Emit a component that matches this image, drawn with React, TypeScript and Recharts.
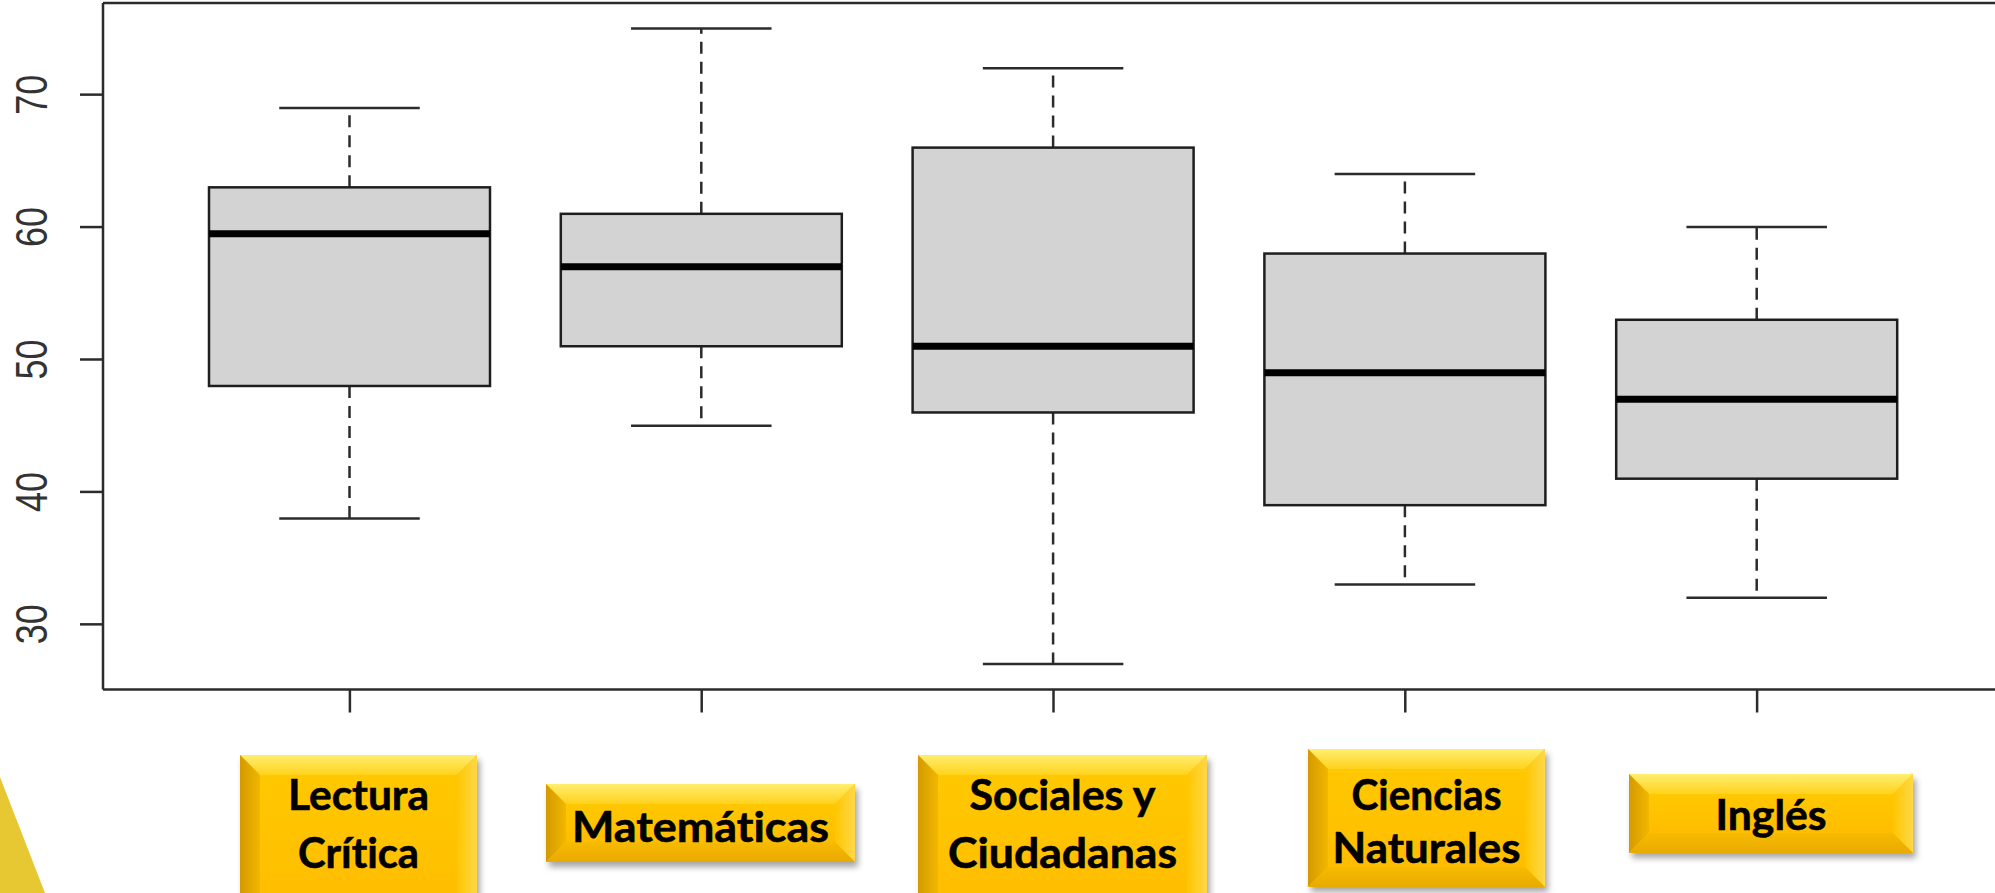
import React from 'react';
import { ComposedChart, Bar, XAxis, YAxis, ReferenceLine } from 'recharts';

// boxplot statistics
const subjects = ['Lectura Crítica', 'Matemáticas', 'Sociales y Ciudadanas', 'Ciencias Naturales', 'Inglés'];
const lowerWhisker = [38, 45, 27, 33, 32];
const firstQuartile = [48, 51, 46, 39, 41];
const medians = [59.5, 57, 51, 49, 47];
const thirdQuartile = [63, 61, 66, 58, 53];
const upperWhisker = [69, 75, 72, 64, 60];
const yTicks = [30, 40, 50, 60, 70];
const yDomain = [25.08, 76.92];
const labelLines = [['Lectura', 'Crítica'], ['Matemáticas'], ['Sociales y', 'Ciudadanas'], ['Ciencias', 'Naturales'], ['Inglés']];

// where the gold label boxes sit, relative to each x tick
const labelLayout = [
  { dx: 8.6, top: 755, w: 237, h: 170, rows: [{ y: 810, w: 141 }, { y: 868, w: 121 }] },
  { dx: -1.2, top: 784, w: 309, h: 78, rows: [{ y: 842, w: 257 }] },
  { dx: 9, top: 755, w: 289, h: 170, rows: [{ y: 810, w: 186 }, { y: 868, w: 229 }] },
  { dx: 21.2, top: 749, w: 237, h: 138, rows: [{ y: 810, w: 150 }, { y: 863, w: 188 }] },
  { dx: 13.9, top: 774, w: 284, h: 79, rows: [{ y: 830, w: 111 }] },
];

const chartData = subjects.map((name, i) => ({
  name,
  low: lowerWhisker[i],
  q1: firstQuartile[i],
  median: medians[i],
  q3: thirdQuartile[i],
  high: upperWhisker[i],
}));

const LINE = '#2b2b2b';

const BoxShape = (props: any) => {
  const { x, y, width, height, payload } = props;
  const top = Math.min(y, y + height);
  const bottom = Math.max(y, y + height);
  const span = payload.high - payload.low;
  const py = (v: number) => top + ((payload.high - v) / span) * (bottom - top);
  const cx = x + width / 2;
  const cap = width / 4;
  return (
    <g>
      <line x1={cx} y1={py(payload.q3)} x2={cx} y2={py(payload.high)} stroke={LINE} strokeWidth={2.5} strokeDasharray="12 8" />
      <line x1={cx} y1={py(payload.q1)} x2={cx} y2={py(payload.low)} stroke={LINE} strokeWidth={2.5} strokeDasharray="12 8" />
      <line x1={cx - cap} y1={py(payload.high)} x2={cx + cap} y2={py(payload.high)} stroke={LINE} strokeWidth={2.5} />
      <line x1={cx - cap} y1={py(payload.low)} x2={cx + cap} y2={py(payload.low)} stroke={LINE} strokeWidth={2.5} />
      <rect x={x} y={py(payload.q3)} width={width} height={py(payload.q1) - py(payload.q3)} fill="#d3d3d3" stroke="#1e1e1e" strokeWidth={2.5} />
      <line x1={x} y1={py(payload.median)} x2={x + width} y2={py(payload.median)} stroke="#000" strokeWidth={7} />
    </g>
  );
};

const YTick = (props: any) => {
  const { x, y, payload } = props;
  return (
    <text
      transform={`translate(${x - 31},${y}) rotate(-90) scale(1,1.24)`}
      textAnchor="middle"
      fontFamily="Liberation Sans, Arial, sans-serif"
      fontSize={36}
      fill="#333"
    >
      {payload.value}
    </text>
  );
};

const SubjectTick = (props: any) => {
  const { x } = props;
  const index = props.index ?? props.payload?.index ?? 0;
  const L = labelLayout[index];
  const lines = labelLines[index];
  if (!L) return <g />;
  const cx = x + L.dx;
  const x0 = cx - L.w / 2;
  const y0 = L.top;
  const x1 = x0 + L.w;
  const y1 = y0 + L.h;
  const b = 20;
  return (
    <g>
      <rect x={x0} y={y0} width={L.w} height={L.h} fill="#FFC000" filter="url(#lblShadow)" />
      <rect x={x0 + b} y={y0 + b} width={L.w - 2 * b} height={L.h - 2 * b} fill="url(#bevFace)" />
      <polygon points={`${x0},${y0} ${x1},${y0} ${x1 - b},${y0 + b} ${x0 + b},${y0 + b}`} fill="url(#bevTop)" />
      <polygon points={`${x0},${y0} ${x0 + b},${y0 + b} ${x0 + b},${y1 - b} ${x0},${y1}`} fill="url(#bevLeft)" />
      <polygon points={`${x1},${y0} ${x1},${y1} ${x1 - b},${y1 - b} ${x1 - b},${y0 + b}`} fill="url(#bevRight)" />
      <polygon points={`${x0},${y1} ${x0 + b},${y1 - b} ${x1 - b},${y1 - b} ${x1},${y1}`} fill="url(#bevBottom)" />
      {lines.map((t, k) => (
        <text
          key={k}
          x={cx}
          y={L.rows[k].y}
          textAnchor="middle"
          fontFamily="Lato, 'Open Sans', sans-serif"
          fontWeight={700}
          fontSize={42}
          fill="#000"
          stroke="#000"
          strokeWidth={0.6}
          style={{ fontVariantLigatures: 'none' }}
          textLength={L.rows[k].w}
          lengthAdjust="spacingAndGlyphs"
        >
          {t}
        </text>
      ))}
    </g>
  );
};

export default function App() {
  return (
    <div style={{ position: 'relative', width: 1995, height: 893, overflow: 'hidden', background: '#fff' }}>
      <style>{'body{margin:0}'}</style>
      <svg width={1995} height={893} style={{ position: 'absolute', left: 0, top: 0 }}>
        <polygon points="0,777 45,893 0,893" fill="#E8C832" />
      </svg>
      <div style={{ position: 'absolute', left: 0, top: 0 }}>
        <ComposedChart width={2003} height={893} data={chartData} margin={{ top: 3, right: 0, bottom: 173.5, left: 0 }}>
          <defs>
            <filter id="lblShadow" x="-10%" y="-10%" width="125%" height="135%">
              <feDropShadow dx="3" dy="5" stdDeviation="3" floodColor="#000" floodOpacity="0.35" />
            </filter>
            <linearGradient id="bevFace" x1="0" y1="0" x2="0" y2="1">
              <stop offset="0%" stopColor="#FFC800" />
              <stop offset="100%" stopColor="#FFBD00" />
            </linearGradient>
            <linearGradient id="bevTop" x1="0" y1="0" x2="0" y2="1">
              <stop offset="0%" stopColor="#FFEE70" />
              <stop offset="100%" stopColor="#FFD21C" />
            </linearGradient>
            <linearGradient id="bevLeft" x1="0" y1="0" x2="1" y2="0">
              <stop offset="0%" stopColor="#D49A00" />
              <stop offset="100%" stopColor="#F2B700" />
            </linearGradient>
            <linearGradient id="bevRight" x1="0" y1="0" x2="1" y2="0">
              <stop offset="0%" stopColor="#FFC600" />
              <stop offset="100%" stopColor="#FFD84A" />
            </linearGradient>
            <linearGradient id="bevBottom" x1="0" y1="0" x2="0" y2="1">
              <stop offset="0%" stopColor="#F7BB00" />
              <stop offset="100%" stopColor="#E9AA00" />
            </linearGradient>
          </defs>
          <XAxis
            dataKey="name"
            type="category"
            padding={{ left: 71, right: 70 }}
            height={30}
            interval={0}
            tickSize={23}
            tickLine={{ stroke: LINE, strokeWidth: 2.5 }}
            axisLine={{ stroke: LINE, strokeWidth: 2.5 }}
            tick={<SubjectTick />}
          />
          <YAxis
            type="number"
            domain={yDomain}
            ticks={yTicks}
            allowDataOverflow
            width={103}
            tickSize={23}
            tickLine={{ stroke: LINE, strokeWidth: 2.5 }}
            axisLine={{ stroke: LINE, strokeWidth: 2.5 }}
            tick={<YTick />}
          />
          <ReferenceLine y={yDomain[1]} stroke={LINE} strokeWidth={2.5} ifOverflow="visible" />
          <Bar dataKey={(d: any) => [d.low, d.high]} barSize={281} shape={<BoxShape />} isAnimationActive={false} />
        </ComposedChart>
      </div>
    </div>
  );
}
